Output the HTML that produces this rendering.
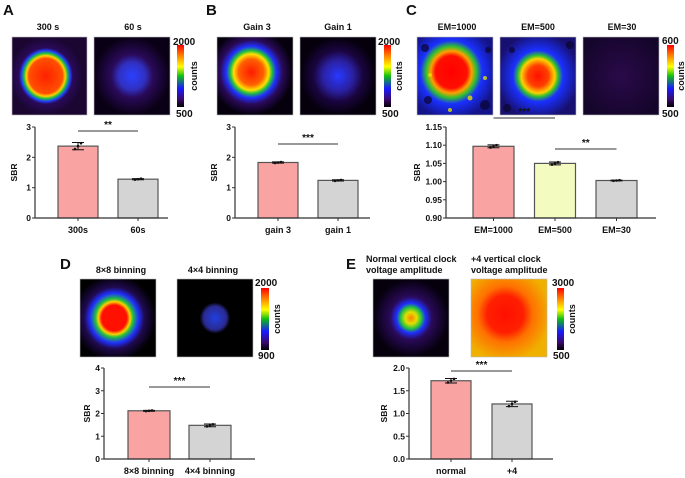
<!DOCTYPE html>
<html><head><meta charset="utf-8"><style>
html,body{margin:0;padding:0;background:#fff;}
svg{display:block;font-family:"Liberation Sans",Arial,sans-serif;}
text{font-weight:bold;fill:#111;}
</style></head><body>
<svg id="fig" width="685" height="478" viewBox="0 0 685 478" xmlns="http://www.w3.org/2000/svg">
<defs>
<linearGradient id="cbar" x1="0" y1="1" x2="0" y2="0">
<stop offset="0" stop-color="#000"/><stop offset="0.12" stop-color="#3a0a6a"/><stop offset="0.3" stop-color="#1a1aff"/><stop offset="0.5" stop-color="#10c010"/><stop offset="0.65" stop-color="#ffff00"/><stop offset="0.82" stop-color="#ff8800"/><stop offset="1" stop-color="#ff0000"/>
</linearGradient>
<radialGradient id="gA1" cx="0.45" cy="0.5" r="0.5"><stop offset="0" stop-color="#ff2000"/><stop offset="0.45" stop-color="#ff5000"/><stop offset="0.52" stop-color="#ffd000"/><stop offset="0.58" stop-color="#20c040"/><stop offset="0.65" stop-color="#2040ff"/><stop offset="0.72" stop-color="#2a0a5a"/><stop offset="1" stop-color="#1a0630"/></radialGradient>
<radialGradient id="gA2" cx="0.5" cy="0.5" r="0.5"><stop offset="0" stop-color="#2a40ff"/><stop offset="0.35" stop-color="#3030c0"/><stop offset="0.55" stop-color="#2a0a5a"/><stop offset="1" stop-color="#0a0015"/></radialGradient>
<radialGradient id="gB1" cx="0.45" cy="0.45" r="0.55"><stop offset="0" stop-color="#ff1a00"/><stop offset="0.3" stop-color="#ff6000"/><stop offset="0.42" stop-color="#ffe000"/><stop offset="0.5" stop-color="#20c040"/><stop offset="0.6" stop-color="#2030ff"/><stop offset="0.75" stop-color="#2a0a5a"/><stop offset="1" stop-color="#05000c"/></radialGradient>
<radialGradient id="gB2" cx="0.5" cy="0.5" r="0.5"><stop offset="0" stop-color="#2838ff"/><stop offset="0.4" stop-color="#2a20a0"/><stop offset="0.65" stop-color="#1a0540"/><stop offset="1" stop-color="#05000c"/></radialGradient>
<radialGradient id="gC1" cx="0.45" cy="0.45" r="0.6"><stop offset="0" stop-color="#ff0000"/><stop offset="0.35" stop-color="#ff1000"/><stop offset="0.45" stop-color="#ffa000"/><stop offset="0.55" stop-color="#30c030"/><stop offset="0.68" stop-color="#1a30ff"/><stop offset="1" stop-color="#14148a"/></radialGradient>
<radialGradient id="gC2" cx="0.5" cy="0.5" r="0.55"><stop offset="0" stop-color="#ff1000"/><stop offset="0.25" stop-color="#ff4000"/><stop offset="0.4" stop-color="#ffd000"/><stop offset="0.48" stop-color="#30c030"/><stop offset="0.6" stop-color="#1a30ff"/><stop offset="1" stop-color="#181070"/></radialGradient>
<radialGradient id="gC3" cx="0.5" cy="0.5" r="0.6"><stop offset="0" stop-color="#2a0a4a"/><stop offset="1" stop-color="#14052a"/></radialGradient>
<radialGradient id="gD1" cx="0.45" cy="0.5" r="0.55"><stop offset="0" stop-color="#ff1000"/><stop offset="0.3" stop-color="#ff1000"/><stop offset="0.38" stop-color="#ffd000"/><stop offset="0.45" stop-color="#20c040"/><stop offset="0.58" stop-color="#2030ff"/><stop offset="0.72" stop-color="#200a50"/><stop offset="1" stop-color="#000"/></radialGradient>
<radialGradient id="gD2" cx="0.5" cy="0.5" r="0.5"><stop offset="0" stop-color="#2040e0"/><stop offset="0.3" stop-color="#2a2a90"/><stop offset="0.4" stop-color="#000"/><stop offset="1" stop-color="#000"/></radialGradient>
<radialGradient id="gE1" cx="0.5" cy="0.5" r="0.5"><stop offset="0" stop-color="#ff8000"/><stop offset="0.15" stop-color="#e0e000"/><stop offset="0.28" stop-color="#20c040"/><stop offset="0.38" stop-color="#2030ff"/><stop offset="0.55" stop-color="#2a0a5a"/><stop offset="1" stop-color="#05000c"/></radialGradient>
<radialGradient id="gE2" cx="0.45" cy="0.45" r="0.6"><stop offset="0" stop-color="#ff1000"/><stop offset="0.4" stop-color="#ff2000"/><stop offset="0.6" stop-color="#ff7000"/><stop offset="1" stop-color="#f0b000"/></radialGradient>
</defs>

<!-- panel letters -->
<text x="3" y="15" font-size="15">A</text>
<text x="206" y="15" font-size="15">B</text>
<text x="406" y="15" font-size="15">C</text>
<text x="60" y="269" font-size="15">D</text>
<text x="346" y="269" font-size="15">E</text>

<!-- image titles -->
<g font-size="9" text-anchor="middle">
<text x="48" y="30">300 s</text>
<text x="133" y="30">60 s</text>
<text x="257" y="30">Gain 3</text>
<text x="338" y="30">Gain 1</text>
<text x="457" y="30">EM=1000</text>
<text x="538" y="30">EM=500</text>
<text x="622" y="30">EM=30</text>
<text x="121" y="273">8×8 binning</text>
<text x="213" y="273">4×4 binning</text>
</g>
<g font-size="9">
<text x="366" y="262">Normal vertical clock</text>
<text x="366" y="273">voltage amplitude</text>
<text x="471" y="262">+4 vertical clock</text>
<text x="471" y="273">voltage amplitude</text>
</g>

<!-- heatmap images -->
<g stroke="#bbb" stroke-width="0.6">
<rect x="12" y="37" width="75" height="78" fill="url(#gA1)"/>
<rect x="94" y="37" width="76" height="78" fill="url(#gA2)"/>
<rect x="217" y="37" width="76" height="78" fill="url(#gB1)"/>
<rect x="300" y="37" width="76" height="78" fill="url(#gB2)"/>
<rect x="417" y="37" width="76" height="78" fill="url(#gC1)"/>
<rect x="500" y="37" width="76" height="78" fill="url(#gC2)"/>
<rect x="583" y="37" width="76" height="78" fill="url(#gC3)"/>
<rect x="80" y="279" width="76" height="78" fill="url(#gD1)"/>
<rect x="177" y="279" width="76" height="78" fill="url(#gD2)"/>
<rect x="373" y="279" width="76" height="78" fill="url(#gE1)"/>
<rect x="471" y="279" width="76" height="78" fill="url(#gE2)"/>
</g>
<!-- noise blobs on EM images -->
<g fill="#0a0530" opacity="0.7">
<circle cx="425" cy="48" r="4"/><circle cx="485" cy="105" r="5"/><circle cx="428" cy="100" r="4"/><circle cx="488" cy="50" r="3"/><circle cx="507" cy="108" r="4"/><circle cx="570" cy="45" r="4"/><circle cx="512" cy="50" r="3"/>
</g>
<g fill="#e0e000" opacity="0.8">
<circle cx="430" cy="75" r="2"/><circle cx="470" cy="98" r="2.5"/><circle cx="485" cy="78" r="2"/><circle cx="450" cy="110" r="2"/>
</g>

<!-- colorbars -->
<g font-size="10">
<rect x="177" y="45" width="7" height="62" fill="url(#cbar)"/>
<text x="173" y="45">2000</text>
<text x="176" y="117">500</text>
<text transform="translate(197,76) rotate(-90)" text-anchor="middle" font-size="9">counts</text>
<rect x="384" y="45" width="7" height="62" fill="url(#cbar)"/>
<text x="378" y="45">2000</text>
<text x="382" y="117">500</text>
<text transform="translate(402,76) rotate(-90)" text-anchor="middle" font-size="9">counts</text>
<rect x="667" y="45" width="7" height="62" fill="url(#cbar)"/>
<text x="662" y="44">600</text>
<text x="662" y="117">500</text>
<text transform="translate(684,76) rotate(-90)" text-anchor="middle" font-size="9">counts</text>
<rect x="261" y="288" width="8" height="62" fill="url(#cbar)"/>
<text x="255" y="286">2000</text>
<text x="258" y="359">900</text>
<text transform="translate(280,319) rotate(-90)" text-anchor="middle" font-size="9">counts</text>
<rect x="557" y="288" width="7" height="62" fill="url(#cbar)"/>
<text x="552" y="286">3000</text>
<text x="553" y="359">500</text>
<text transform="translate(575,319) rotate(-90)" text-anchor="middle" font-size="9">counts</text>
</g>
<g id="charts"></g>
</svg>
<script>
// ---- data ----
const aCats = ["300s", "60s"];
const aVals = [2.37, 1.28];
const aErr = [0.12, 0.02];
const aTicks = [0, 1, 2, 3];
const bCats = ["gain 3", "gain 1"];
const bVals = [1.83, 1.24];
const bErr = [0.02, 0.02];
const bTicks = [0, 1, 2, 3];
const cCats = ["EM=1000", "EM=500", "EM=30"];
const cVals = [1.097, 1.050, 1.003];
const cErr = [0.004, 0.004, 0.001];
const cTicks = [0.90, 0.95, 1.00, 1.05, 1.10, 1.15];
const dCats = ["8×8 binning", "4×4 binning"];
const dVals = [2.12, 1.48];
const dErr = [0.02, 0.06];
const dTicks = [0, 1, 2, 3, 4];
const eCats = ["normal", "+4"];
const eVals = [1.72, 1.21];
const eErr = [0.05, 0.06];
const eTicks = [0.0, 0.5, 1.0, 1.5, 2.0];

const NS = "http://www.w3.org/2000/svg";
const root = document.getElementById("charts");
function mk(tag, attrs, parent) {
  const e = document.createElementNS(NS, tag);
  for (const k in attrs) e.setAttribute(k, attrs[k]);
  (parent || root).appendChild(e);
  return e;
}
function chart(id, cats, vals, errs, ticks, L, fills, sigs, dec) {
  const g = mk("g", {});
  
  
  const min = ticks[0], max = ticks[ticks.length - 1];
  const y = v => L.yb - (v - min) / (max - min) * (L.yb - L.yt);
  const x = i => L.c0 + i * L.step;
  // bars
  cats.forEach((c, i) => {
    const r = mk("rect", {x: x(i) - L.bw / 2, y: y(vals[i]), width: L.bw, height: y(min) - y(vals[i]), fill: fills[i], stroke: "#555", "stroke-width": 1.2}, g);
    
    
    const eb = mk("path", {d: `M${x(i)-6},${y(vals[i]+errs[i])}H${x(i)+6}M${x(i)},${y(vals[i]+errs[i])}V${y(vals[i]-errs[i])}M${x(i)-6},${y(vals[i]-errs[i])}H${x(i)+6}`, stroke: "#111", "stroke-width": 1, fill: "none"}, g);
    
    
    [-3, 0, 3].forEach((dx, k) => {
      const d = mk("circle", {cx: x(i) + dx, cy: y(vals[i] + (k - 1) * errs[i] * 0.8), r: 1.3, fill: "#111"}, g);
      
      
    });
    mk("line", {x1: x(i), x2: x(i), y1: L.yb, y2: L.yb + 3, stroke: "#333"}, g);
    const t = mk("text", {x: x(i), y: L.yb + 15, "text-anchor": "middle", "font-size": 9}, g);
    t.textContent = c;
    
    
  });
  // axes
  const ax = mk("path", {d: `M${L.ax},${L.yt}V${L.yb}H${L.xe}`, stroke: "#333", "stroke-width": 1.2, fill: "none"}, g);
  
  
  ticks.forEach(tv => {
    mk("line", {x1: L.ax - 3, x2: L.ax, y1: y(tv), y2: y(tv), stroke: "#333"}, g);
    const t = mk("text", {x: L.ax - 4, y: y(tv) + 3, "text-anchor": "end", "font-size": 8.5}, g);
    t.textContent = tv.toFixed(dec);
    
    
  });
  const yl = mk("text", {transform: `translate(${L.ax - L.yl},${(L.yt + L.yb) / 2}) rotate(-90)`, "text-anchor": "middle", "font-size": 8.5}, g);
  yl.textContent = "SBR";
  
  
  sigs.forEach(s => {
    const x1 = x(s[0]), x2 = x(s[1]);
    const ln = mk("line", {x1: x1, x2: x2, y1: s[2], y2: s[2], stroke: "#333", "stroke-width": 1}, g);
    
    
    const st = mk("text", {x: (x1 + x2) / 2, y: s[2] - 3, "text-anchor": "middle", "font-size": 10}, g);
    st.textContent = s[3];
    
    
  });
}
const PINK = "#f9a3a3", GRAY = "#d4d4d4", YEL = "#f4fbc0";
chart("a", aCats, aVals, aErr, aTicks, {ax: 35, xe: 168, yt: 127, yb: 218, c0: 78, step: 60, bw: 40, yl: 18}, [PINK, GRAY], [[0, 1, 131, "**"]], 0);
chart("b", bCats, bVals, bErr, bTicks, {ax: 235, xe: 370, yt: 127, yb: 218, c0: 278, step: 60, bw: 40, yl: 18}, [PINK, GRAY], [[0, 1, 144, "***"]], 0);
chart("c", cCats, cVals, cErr, cTicks, {ax: 446, xe: 656, yt: 127, yb: 218, c0: 493.5, step: 61.5, bw: 41, yl: 26}, [PINK, YEL, GRAY], [[0, 1, 118, "***"], [1, 2, 149, "**"]], 2);
chart("d", dCats, dVals, dErr, dTicks, {ax: 104, xe: 255, yt: 368, yb: 459, c0: 149, step: 61, bw: 42, yl: 14}, [PINK, GRAY], [[0, 1, 387, "***"]], 0);
chart("e", eCats, eVals, eErr, eTicks, {ax: 409, xe: 553, yt: 368, yb: 459, c0: 451, step: 61, bw: 40, yl: 22}, [PINK, GRAY], [[0, 1, 371, "***"]], 1);
</script>
</body></html>
